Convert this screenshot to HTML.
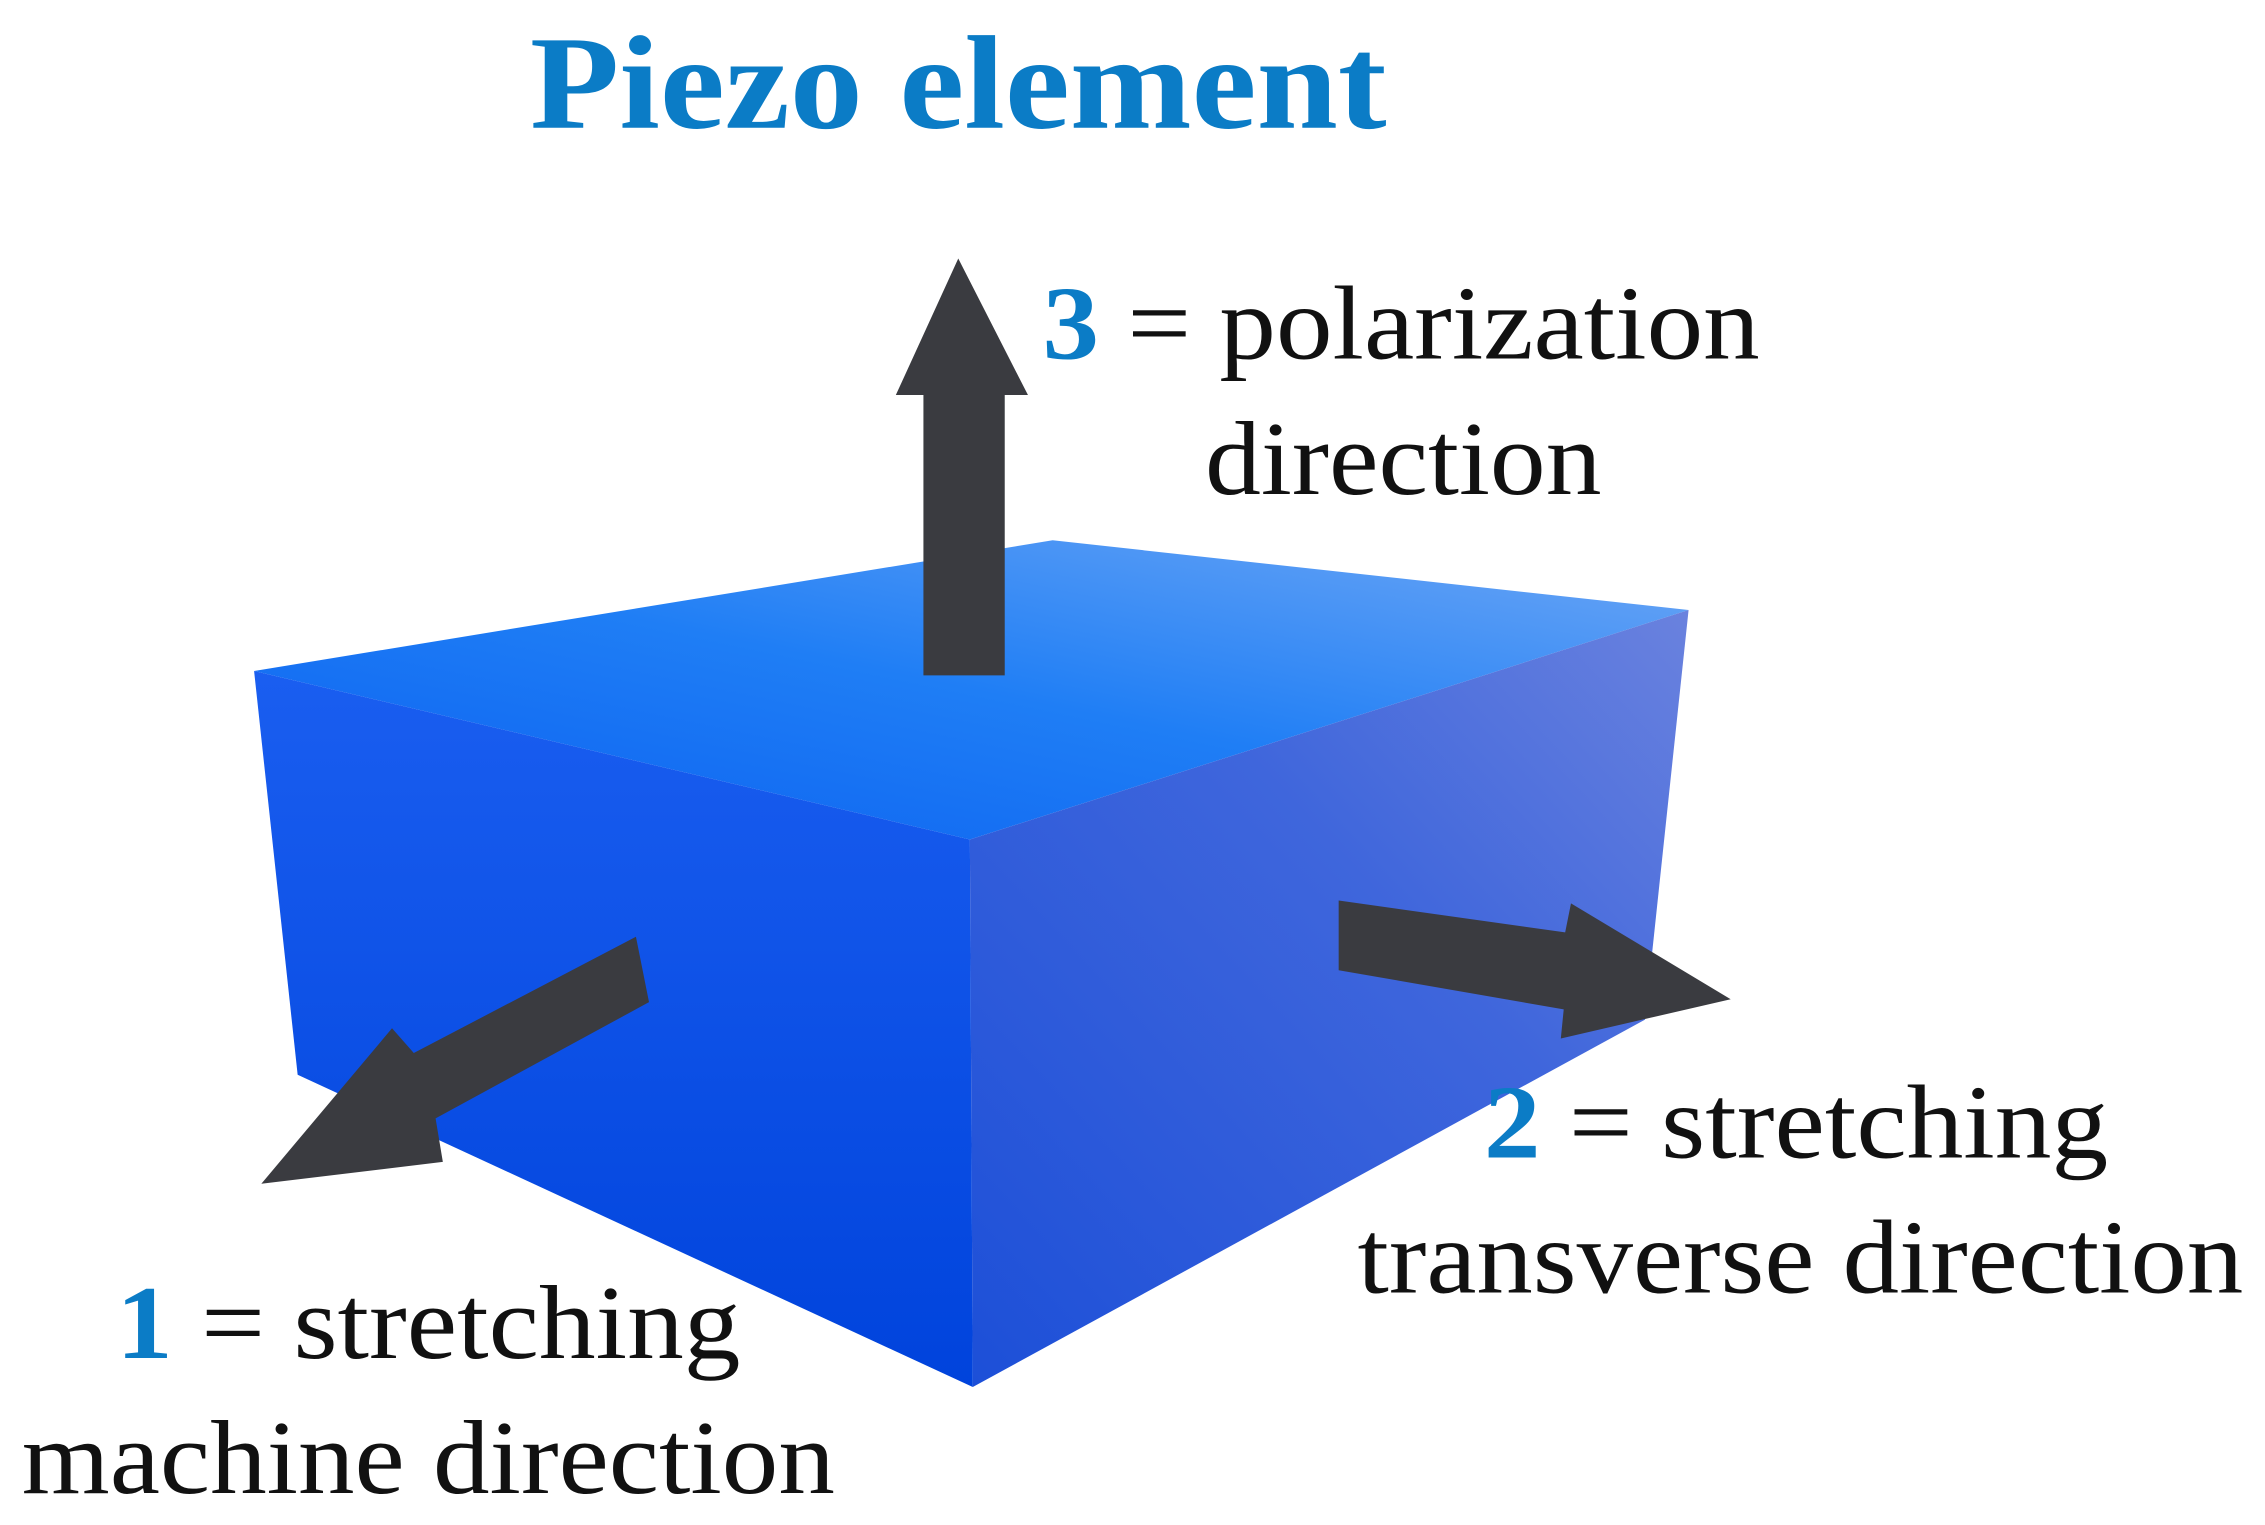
<!DOCTYPE html>
<html><head><meta charset="utf-8">
<style>
html,body{margin:0;padding:0;background:#fff;}
svg{display:block;}
</style></head>
<body>
<svg width="2265" height="1525" viewBox="0 0 1560 1050" preserveAspectRatio="none" xmlns="http://www.w3.org/2000/svg">
<defs>
<linearGradient id="top" x1="0" y1="1" x2="1" y2="0">
<stop offset="0" stop-color="#0a5ff0"/>
<stop offset="0.5" stop-color="#1f7ef5"/>
<stop offset="1" stop-color="#6fa8f5"/>
</linearGradient>
<linearGradient id="front" x1="0" y1="0" x2="0" y2="1">
<stop offset="0" stop-color="#1a5ef0"/>
<stop offset="1" stop-color="#0043dc"/>
</linearGradient>
<linearGradient id="side" x1="0" y1="1" x2="1" y2="0">
<stop offset="0" stop-color="#1c4fd8"/>
<stop offset="0.6" stop-color="#3f66dc"/>
<stop offset="1" stop-color="#6a82de"/>
</linearGradient>
</defs>
<text x="365" y="88" font-family="Liberation Serif, serif" font-weight="bold" font-size="92" fill="#0b7cc6" textLength="590" lengthAdjust="spacingAndGlyphs">Piezo element</text>

<!-- box -->
<polygon points="175,462 725,372 1163,420 668,578" fill="url(#top)"/>
<polygon points="175,462 668,578 670,955 205,740" fill="url(#front)"/>
<polygon points="668,578 1163,420 1133,702 670,955" fill="url(#side)"/>

<!-- up arrow -->
<polygon points="636,465 692,465 692,272 708,272 660,178 617,272 636,272" fill="#3a3b40"/>
<!-- left arrow -->
<polygon points="438,645 447,690 300,770 305,800 180,815 270,708 285,725" fill="#3a3b40"/>
<!-- right arrow -->
<polygon points="922,620 1078,642 1082,622 1192,688 1075,715 1077,695 922,668" fill="#3a3b40"/>

<g font-family="Liberation Serif, serif" font-size="72" fill="#111">
<text x="718" y="247" textLength="494" lengthAdjust="spacingAndGlyphs"><tspan fill="#0b7cc6" font-weight="bold">3</tspan> = polarization</text>
<text x="830" y="340" textLength="273" lengthAdjust="spacingAndGlyphs">direction</text>
<text x="1022" y="797" textLength="430" lengthAdjust="spacingAndGlyphs"><tspan fill="#0b7cc6" font-weight="bold">2</tspan> = stretching</text>
<text x="935" y="890" textLength="610" lengthAdjust="spacingAndGlyphs">transverse direction</text>
<text x="80" y="935" textLength="430" lengthAdjust="spacingAndGlyphs"><tspan fill="#0b7cc6" font-weight="bold">1</tspan> = stretching</text>
<text x="15" y="1028" textLength="560" lengthAdjust="spacingAndGlyphs">machine direction</text>
</g>
</svg>
</body></html>
